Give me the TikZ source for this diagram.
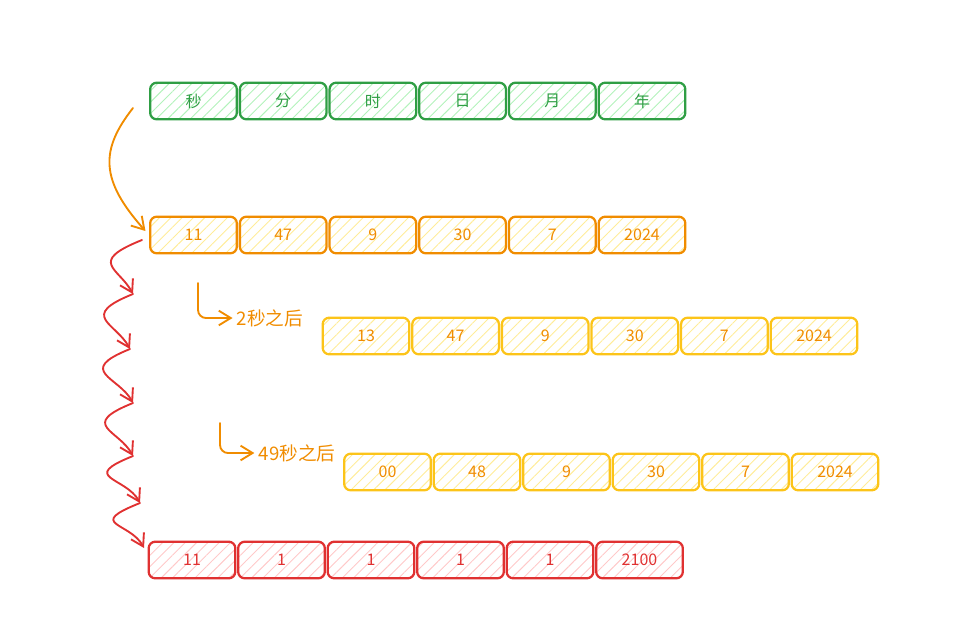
\documentclass[tikz,border=0pt]{standalone}
\usepackage{fontspec}
\setmainfont{Noto Sans CJK SC}
\usetikzlibrary{arrows.meta,patterns.meta}
\definecolor{grnline}{HTML}{2F9E44}
\definecolor{grnfill}{HTML}{B2F2BB}
\definecolor{orgline}{HTML}{F08C00}
\definecolor{ylwline}{HTML}{FCC419}
\definecolor{ylwfill}{HTML}{FFEC99}
\definecolor{redline}{HTML}{E03131}
\definecolor{redfill}{HTML}{FFC9C9}

\tikzset{
	cell/.style={draw, rounded corners=5pt, line width=1.7pt, minimum width=65pt, minimum height=27.5pt, inner sep=0pt, font=\fontsize{12}{14}\selectfont},
	hatch/.style={pattern={Lines[angle=45,distance=6pt,line width=0.7pt]}, pattern color=#1},
	greencell/.style={cell, draw=grnline, text=grnline, hatch=grnfill},
	orangecell/.style={cell, draw=orgline, text=orgline, hatch=ylwfill},
	yellowcell/.style={cell, draw=ylwline, text=orgline, hatch=ylwfill},
	redcell/.style={cell, draw=redline, text=redline, hatch=redfill},
	sketcharrow/.style={line width=1.4pt, line cap=round, -{Straight Barb[length=9pt,width=11pt]}},
	note/.style={text=orgline, inner sep=2pt, font=\fontsize{14}{16}\selectfont}
}

\begin{document}
\begin{tikzpicture}[x=0.75pt, y=-0.75pt]
	\useasboundingbox (0,0) rectangle (967,626);
	% field names
	\foreach \t [count=\i] in {秒,分,时,日,月,年}
		\node[greencell] (g\i) at ({193.5+(\i-1)*89.7},101) {\t};
	% current time
	\foreach \t [count=\i] in {11,47,9,30,7,2024}
		\node[orangecell] (o\i) at ({193.5+(\i-1)*89.7},235) {\t};
	% after 2 s
	\foreach \t [count=\i] in {13,47,9,30,7,2024}
		\node[yellowcell] (a\i) at ({366+(\i-1)*89.6},336) {\t};
	% after 49 s
	\foreach \t [count=\i] in {00,48,9,30,7,2024}
		\node[yellowcell] (b\i) at ({387.5+(\i-1)*89.5},472) {\t};
	% carried over
	\foreach \t [count=\i] in {11,1,1,1,1,2100}
		\node[redcell] (r\i) at ({192+(\i-1)*89.5},560) {\t};

	\node[note] (lbl2) at (270,318) {2秒之后};
	\node[note] (lbl49) at (297,453) {49秒之后};

	\coordinate (top) at (133,108);
	\draw[sketcharrow, orgline, shorten >=4pt] (top) .. controls (100,150) and (100,180) .. (o1.west);

	\coordinate (s2) at (198,283);
	\coordinate (s49) at (220,423);
	\draw[sketcharrow, orgline, rounded corners=6pt, shorten >=1pt] (s2) |- (lbl2.west);
	\draw[sketcharrow, orgline, rounded corners=6pt, shorten >=1pt] (s49) |- (lbl49.west);

	% red zigzag
	\coordinate (z0) at (142,240);
	\coordinate (z1) at (133,294);
	\coordinate (z2) at (130,349);
	\coordinate (z3) at (133,403);
	\coordinate (z4) at (133,456);
	\coordinate (z5) at (140,503);
	\coordinate (z6) at (144,548);
	\foreach \p/\q in {z0/z1,z1/z2,z2/z3,z3/z4,z4/z5,z5/z6}
		\draw[sketcharrow, redline] (\p) .. controls +(-55,22) and +(-14,-26) .. (\q);
\end{tikzpicture}
\end{document}
